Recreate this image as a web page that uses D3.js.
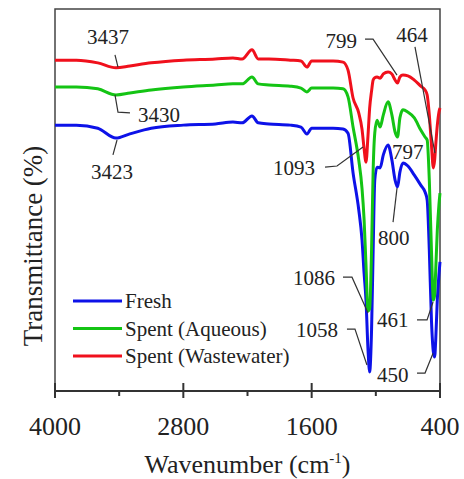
<!DOCTYPE html>
<meta charset="utf-8">
<head>
    <title>FTIR spectra</title>
</head>
<style>
	body {
	  margin: 0;
	  background: #fff;
	}

	svg text {
	  font-family: "Liberation Serif", "Times New Roman", serif;
	  fill: #222;
	}

	.frame {
	  fill: none;
	  stroke: #444;
	  stroke-width: 1.5px;
	}

	.spectrum {
	  fill: none;
	  stroke-width: 3px;
	  stroke-linejoin: round;
	}

	.leader {
	  fill: none;
	  stroke: #333;
	  stroke-width: 1.2px;
	}
</style>
<body>
<script src="https://cdn.jsdelivr.net/npm/d3@7"></script>

<script>
var margin = {top: 9, right: 24, bottom: 88, left: 55},
    width = 464 - margin.left - margin.right,
    height = 479 - margin.top - margin.bottom;

// wavenumbers (cm-1) shared by every spectrum
var wavenumbers = [4000, 3800, 3600, 3430, 3300, 3100, 2800, 2500, 2336, 2250, 2158, 2100, 2000, 1800, 1700,
                   1644, 1600, 1400, 1307, 1260, 1213, 1160, 1129, 1110, 1092, 1073, 1058, 1040, 1025, 1010,
                   989, 960, 930, 886, 850, 820, 797, 775, 746, 700, 640, 580, 540, 520, 500, 480, 462, 450,
                   440, 425, 410, 400];

// transmittance (arbitrary offset units)
var fresh = [69.6, 69.6, 68.8, 66.2, 67.3, 68.8, 69.6, 69.9, 70.4, 70.2, 72.0, 70.2, 69.9, 69.6, 69.1,
             67.3, 68.8, 68.8, 68.6, 67.5, 57.1, 47.5, 39.5, 30.9, 23.8, 10.7, 5.0, 16.0, 36.9, 55.2,
             58.6, 58.4, 61.8, 64.4, 60.5, 55.2, 53.4, 57.3, 59.7, 58.9, 56.5, 53.9, 52.1, 50.0, 36.9, 18.6, 10.2, 8.9,
             13.4, 24.0, 30.4, 33.8];

var aqueous = [79.6, 79.6, 79.1, 77.5, 78.0, 78.8, 79.6, 80.1, 80.4, 80.4, 82.2, 80.4, 80.1, 79.8, 79.3,
               78.3, 79.3, 79.3, 79.1, 77.0, 69.1, 60.5, 53.0, 45.0, 33.0, 21.0, 21.5, 36.9, 57.9, 67.5,
               70.9, 69.1, 72.3, 75.7, 72.3, 67.8, 66.5, 71.5, 73.6, 73.0, 71.5, 68.3, 66.5, 65.7, 55.2, 36.9, 23.8, 25.1,
               31.7, 42.1, 48.7, 51.8];

var wastewater = [86.6, 86.6, 85.9, 84.6, 85.1, 85.9, 86.6, 86.9, 87.2, 86.9, 89.3, 86.9, 86.9, 86.6, 86.4,
                  84.8, 86.4, 86.4, 86.1, 84.0, 76.7, 72.8, 68.5, 63.5, 59.9, 67.0, 74.0, 78.5, 81.4, 82.0,
                  82.2, 81.9, 83.0, 83.5, 83.0, 81.4, 80.6, 82.2, 82.7, 82.5, 81.4, 79.8, 78.8, 77.5, 72.3, 64.4, 58.4, 60.5,
                  64.4, 69.6, 73.0, 74.1];

var seriesNames = ["Fresh", "Spent (Aqueous)", "Spent (Wastewater)"];
var seriesColors = ["#0d12e8", "#14c414", "#f0101c"];

var majorTicks = [4000, 2800, 1600, 400];
var minorTicks = [3400, 2200, 1000];

// peak labels: text, anchor, text position (wn, T), leader points (wn, T)
var peakLabels = [
  {text: "3437", anchor: "middle", at: [3504, 92.7], leader: [[3439, 88.0], [3411, 84.8]]},
  {text: "3430", anchor: "start",  at: [3224, 72.3], leader: [[3439, 77.5], [3411, 73.0], [3299, 72.8]]},
  {text: "3423", anchor: "middle", at: [3467, 57.3], leader: [[3420, 65.7], [3458, 61.8]]},
  {text: "1093", anchor: "end",    at: [1569, 58.4], leader: [[1475, 58.6], [1363, 58.9], [1120, 63.9]]},
  {text: "799",  anchor: "end",    at: [1176, 91.6], leader: [[1101, 92.1], [1026, 92.1], [802, 82.7]]},
  {text: "464",  anchor: "middle", at: [662, 93.2],  leader: [[634, 90.1], [447, 62.3]]},
  {text: "797",  anchor: "start",  at: [849, 62.6],  leader: []},
  {text: "800",  anchor: "start",  at: [980, 40.1],  leader: [[839, 44.2], [802, 53.1]]},
  {text: "1086", anchor: "end",    at: [1382, 29.6], leader: [[1307, 29.8], [1223, 29.8], [1073, 20.4]]},
  {text: "1058", anchor: "end",    at: [1354, 16.0], leader: [[1270, 16.2], [1195, 16.2], [1083, 6.8]]},
  {text: "461",  anchor: "start",  at: [989, 18.6],  leader: [[615, 18.6], [521, 18.6], [465, 23.3]]},
  {text: "450",  anchor: "start",  at: [989, 4.2],   leader: [[615, 4.7], [540, 4.7], [465, 9.9]]}
];

var xScale = d3.scaleLinear().domain([4000, 400]).range([0, width]),
    yScale = d3.scaleLinear().domain([0, 100]).range([height, 0]);

var svg = d3.select("body").append("svg")
    .attr("width", width + margin.left + margin.right)
    .attr("height", height + margin.top + margin.bottom)
  .append("g")
    .attr("transform", "translate(" + margin.left + "," + margin.top + ")");

// frame (left, top, right)
svg.append("path")
    .attr("class", "frame")
    .attr("d", "M0," + height + "V0H" + width + "V" + height);

// spectra
var line = d3.line()
    .x(function(d) { return xScale(d[0]); })
    .y(function(d) { return yScale(d[1]); })
    .curve(d3.curveMonotoneX);

[fresh, aqueous, wastewater].forEach(function(values, i) {
  svg.append("path")
      .attr("class", "spectrum")
      .attr("stroke", seriesColors[i])
      .attr("d", line(wavenumbers.map(function(w, j) { return [w, values[j]]; })));
});

// x axis
var xAxis = svg.append("g")
    .attr("transform", "translate(0," + height + ")");

xAxis.append("line")
    .attr("x1", 0).attr("x2", width)
    .attr("stroke", "#333").attr("stroke-width", 2);

xAxis.selectAll(".major")
    .data(majorTicks).enter()
    .append("line")
    .attr("x1", xScale).attr("x2", xScale)
    .attr("y1", -8).attr("y2", 7)
    .attr("stroke", "#333").attr("stroke-width", 2);

xAxis.selectAll(".minor")
    .data(minorTicks).enter()
    .append("line")
    .attr("x1", xScale).attr("x2", xScale)
    .attr("y1", 0).attr("y2", 5)
    .attr("stroke", "#333").attr("stroke-width", 2);

xAxis.selectAll(".ticklabel")
    .data(majorTicks).enter()
    .append("text")
    .attr("x", xScale)
    .attr("y", 44)
    .style("text-anchor", "middle")
    .style("font-size", "26px")
    .text(function(d) { return d; });

var xTitle = svg.append("text")
    .attr("x", width / 2)
    .attr("y", height + 82)
    .style("text-anchor", "middle")
    .style("font-size", "26px");
xTitle.append("tspan").text("Wavenumber (cm");
xTitle.append("tspan").attr("dy", -10).style("font-size", "15px").text("-1");
xTitle.append("tspan").attr("dy", 10).text(")");

svg.append("text")
    .attr("transform", "translate(-22," + (height / 2 + 46) + ") rotate(-90)")
    .attr("dy", ".35em")
    .style("text-anchor", "middle")
    .style("font-size", "27px")
    .text("Transmittance (%)");

// peak labels
var leaderLine = d3.line()
    .x(function(d) { return xScale(d[0]); })
    .y(function(d) { return yScale(d[1]); });

peakLabels.forEach(function(p) {
  svg.append("text")
      .attr("x", xScale(p.at[0]))
      .attr("y", yScale(p.at[1]))
      .attr("dy", ".35em")
      .style("text-anchor", p.anchor)
      .style("font-size", "21px")
      .text(p.text);
  if (p.leader.length) {
    svg.append("path")
        .attr("class", "leader")
        .attr("d", leaderLine(p.leader));
  }
});

// legend
var legend = svg.selectAll(".legend")
    .data(seriesNames).enter()
    .append("g")
    .attr("transform", function(d, i) { return "translate(18," + (292 + i * 27.5) + ")"; });

legend.append("line")
    .attr("x1", 0).attr("x2", 49)
    .attr("stroke", function(d, i) { return seriesColors[i]; })
    .attr("stroke-width", 3);

legend.append("text")
    .attr("x", 52)
    .attr("dy", ".35em")
    .style("font-size", "21px")
    .text(function(d) { return d; });
</script>
</body>
